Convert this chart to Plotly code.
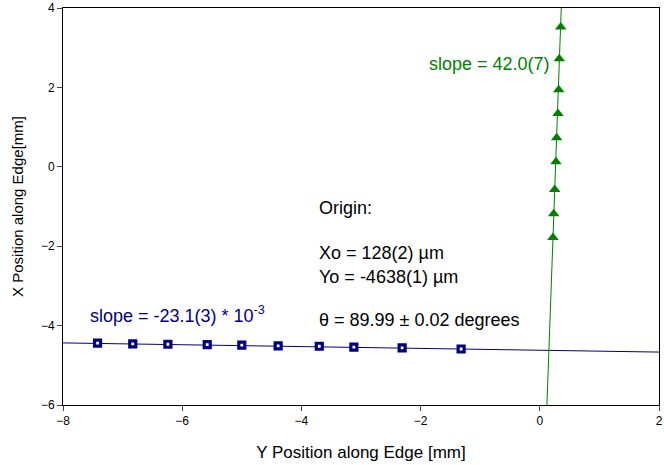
import plotly.graph_objects as go

# Blue series (horizontal edge)
blue_x = [-7.42, -6.83, -6.24, -5.58, -5.00, -4.39, -3.70, -3.12, -2.31, -1.32]
blue_y = [-4.44, -4.46, -4.47, -4.48, -4.49, -4.51, -4.52, -4.54, -4.56, -4.59]
blue_fit_x = [-8, 2]
blue_fit_y = [-4.436, -4.667]

# Green series (vertical edge)
green_x = [0.221, 0.233, 0.250, 0.272, 0.283, 0.305, 0.317, 0.327, 0.351]
green_y = [-1.78, -1.18, -0.57, 0.13, 0.73, 1.34, 1.94, 2.72, 3.52]
green_fit_x = [0.12, 0.36]
green_fit_y = [-6, 4]

x_ticks = [-8, -6, -4, -2, 0, 2]
y_ticks = [-6, -4, -2, 0, 2, 4]

NAVY = "#000080"
GREEN = "#008000"
FONT = "Liberation Sans, Arial, sans-serif"

fig = go.Figure()
fig.add_trace(go.Scatter(x=blue_fit_x, y=blue_fit_y, mode="lines",
                         line=dict(color=NAVY, width=1), showlegend=False))
fig.add_trace(go.Scatter(x=green_fit_x, y=green_fit_y, mode="lines",
                         line=dict(color=GREEN, width=1), showlegend=False))
fig.add_trace(go.Scatter(x=blue_x, y=blue_y, mode="markers",
                         marker=dict(symbol="square", size=6, color="white",
                                     line=dict(color=NAVY, width=3.2)),
                         showlegend=False))
fig.add_trace(go.Scatter(x=green_x, y=green_y, mode="markers",
                         marker=dict(symbol="triangle-up", size=10, color=GREEN,
                                     line=dict(width=0)),
                         showlegend=False))

def ann(x, y, text, color="black", xanchor="left"):
    fig.add_annotation(x=x, y=y, xref="x", yref="y", text=text, showarrow=False,
                       xanchor=xanchor, font=dict(family=FONT, size=18, color=color))

ann(0.21, 2.58, "slope = 42.0(7)", color=GREEN, xanchor="right")
ann(-7.58, -3.71, "slope = -23.1(3) * 10<sup>-3</sup>", color=NAVY)
ann(-3.74, -1.05, "Origin:")
ann(-3.74, -2.18, "Xo = 128(2) \u00b5m")
ann(-3.74, -2.78, "Yo = -4638(1) \u00b5m")
ann(-3.74, -3.86, "\u03b8 = 89.99 \u00b1 0.02 degrees")

fig.update_layout(
    width=664, height=465,
    margin=dict(l=63, r=5, t=8, b=60, autoexpand=False),
    plot_bgcolor="white", paper_bgcolor="white",
    font=dict(family=FONT, size=12, color="black"),
    xaxis=dict(range=[-8, 2], tickvals=x_ticks, ticks="outside", ticklen=5,
               showgrid=False, zeroline=False, showline=True, linecolor="black",
               linewidth=1, mirror=True, automargin=False,
               title=dict(text="Y Position along Edge [mm]", font=dict(size=17), standoff=18)),
    yaxis=dict(range=[-6, 4], tickvals=y_ticks, ticks="outside", ticklen=5,
               showgrid=False, zeroline=False, showline=True, linecolor="black",
               linewidth=1, mirror=True, automargin=False,
               title=dict(text="X Position along Edge[mm]", font=dict(size=15), standoff=13)),
)

fig.write_html("out.html")
